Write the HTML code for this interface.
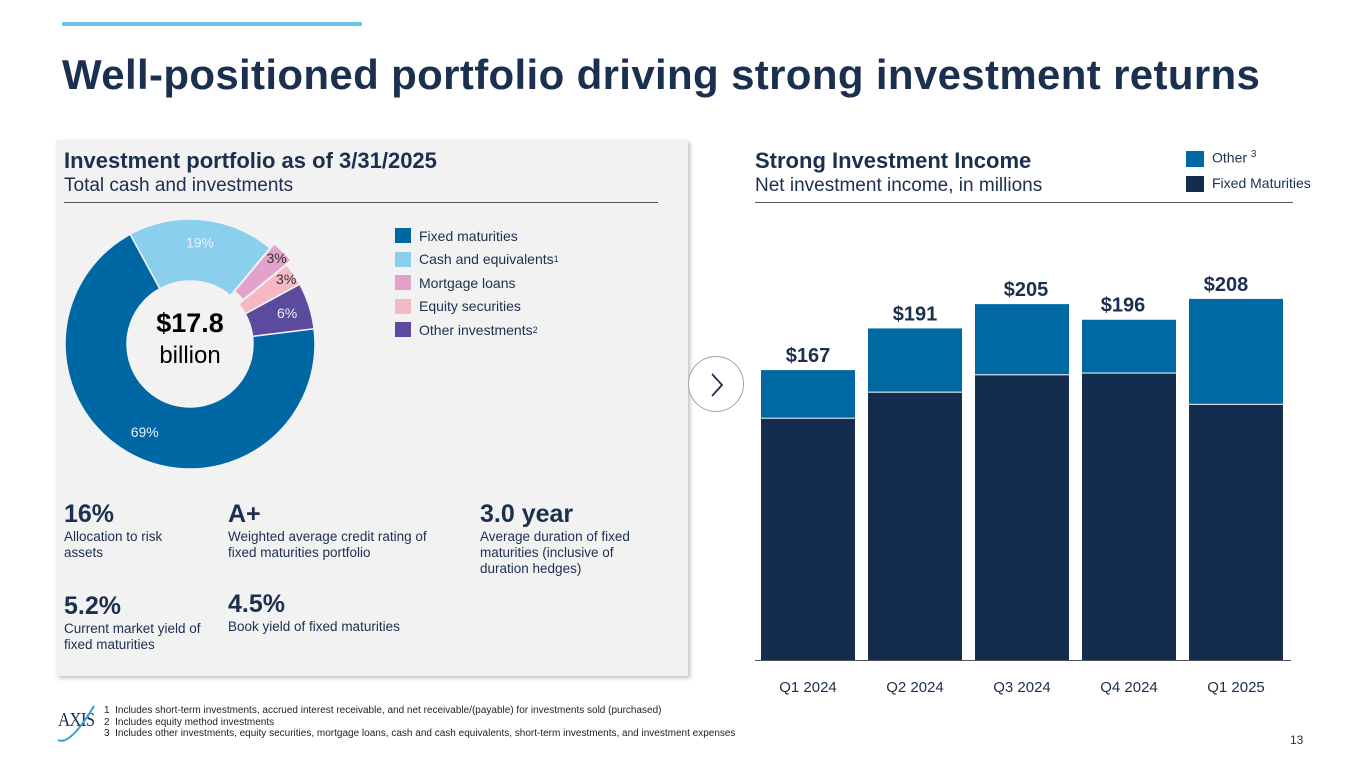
<!DOCTYPE html>
<html><head><meta charset="utf-8"><style>
body{margin:0;width:1365px;height:768px;background:#fff;position:relative;overflow:hidden;font-family:"Liberation Sans","DejaVu Sans",sans-serif;color:#1b2f4e}
.a{position:absolute}
</style></head><body>
<div class="a" style="left:62px;top:22px;width:300px;height:4px;background:#6cc4ea"></div>
<div class="a" style="left:62px;top:51px;font-size:42px;font-weight:bold;color:#1b2f4e;letter-spacing:0.35px">Well-positioned portfolio driving strong investment returns</div>
<div class="a" style="left:56px;top:140px;width:632px;height:536px;background:#f2f2f2;box-shadow:2px 2px 4px rgba(0,0,0,0.25)"></div>
<div class="a" style="left:64px;top:148px;font-size:22px;font-weight:bold">Investment portfolio as of 3/31/2025</div>
<div class="a" style="left:64px;top:175px;font-size:19px">Total cash and investments</div>
<div class="a" style="left:64px;top:202px;width:594px;height:1px;background:#555"></div>
<svg class="a" id="donut" style="left:0;top:0" width="690" height="690"></svg>
<div class="a" style="left:130px;top:308px;width:120px;text-align:center;font-size:27px;font-weight:bold;color:#000">$17.8</div>
<div class="a" style="left:130px;top:342px;width:120px;text-align:center;font-size:24px;color:#000">billion</div>
<div id="legend" class="a" style="left:395px;top:224px;font-size:14px;color:#1b2f4e"></div>
<div class="a" style="left:64px;top:500px;width:125px"><div style="font-size:25px;font-weight:bold">16%</div><div style="font-size:13.5px;line-height:16px">Allocation to risk assets</div></div>
<div class="a" style="left:228px;top:500px;width:230px"><div style="font-size:25px;font-weight:bold">A+</div><div style="font-size:13.5px;line-height:16px">Weighted average credit rating of fixed maturities portfolio</div></div>
<div class="a" style="left:480px;top:500px;width:180px"><div style="font-size:25px;font-weight:bold">3.0 year</div><div style="font-size:13.5px;line-height:16px">Average duration of fixed maturities (inclusive of duration hedges)</div></div>
<div class="a" style="left:64px;top:592px;width:140px"><div style="font-size:25px;font-weight:bold">5.2%</div><div style="font-size:13.5px;line-height:16px">Current market yield of fixed maturities</div></div>
<div class="a" style="left:228px;top:590px;width:230px"><div style="font-size:25px;font-weight:bold">4.5%</div><div style="font-size:13.5px;line-height:16px">Book yield of fixed maturities</div></div>
<div class="a" style="left:755px;top:148px;font-size:22px;font-weight:bold">Strong Investment Income</div>
<div class="a" style="left:755px;top:175px;font-size:19px">Net investment income, in millions</div>
<div class="a" style="left:755px;top:202px;width:538px;height:1px;background:#555"></div>
<div class="a" style="left:1186px;top:149px;font-size:14px"><span style="display:inline-block;width:18px;height:16px;background:#0068a3;vertical-align:middle;margin-right:8px"></span>Other <sup style="font-size:10px">3</sup></div>
<div class="a" style="left:1186px;top:175px;font-size:14px"><span style="display:inline-block;width:18px;height:16px;background:#142d4e;vertical-align:middle;margin-right:8px"></span>Fixed Maturities</div>
<svg class="a" id="bars" style="left:0;top:0" width="1365" height="768"></svg>
<div class="a" style="left:688px;top:356px;width:56px;height:56px;border-radius:50%;background:#fff;border:1px solid #9aa4b2;box-sizing:border-box"><svg width="56" height="56"><path d="M23 17 L33 28 L23 39" fill="none" stroke="#1b2f4e" stroke-width="1.8"/></svg></div>
<div class="a" style="left:58px;top:709px;font-family:'Liberation Serif',serif;font-size:20px;color:#1b2f4e;letter-spacing:-1px;transform:scaleX(0.85);transform-origin:left">AXIS</div>
<svg class="a" style="left:54px;top:700px" width="44" height="46"><path d="M4 40 Q16 46 40 6" fill="none" stroke="#2aa3dc" stroke-width="2"/></svg>
<div class="a" style="left:104px;top:705px;font-size:10px;line-height:11.5px;color:#222">1&nbsp; Includes short-term investments, accrued interest receivable, and net receivable/(payable) for investments sold (purchased)<br>2&nbsp; Includes equity method investments<br>3&nbsp; Includes other investments, equity securities, mortgage loans, cash and cash equivalents, short-term investments, and investment expenses</div>
<div class="a" style="left:1290px;top:733px;font-size:12px;color:#333">13</div>
<script>
const sliceNames=["Fixed maturities","Cash and equivalents","Mortgage loans","Equity securities","Other investments"];
const sliceValues=[69,19,3,3,6];
const sliceSup=["","1","","","2"];
const sliceColors=["#0067a5","#8bcfee","#e3a2cc","#f5b8c4","#5b4a9e"];
const NS="http://www.w3.org/2000/svg";
const d=document.getElementById('donut');
const cx=190,cy=344,R=125,r=63;
let ang=83;
const tot=sliceValues.reduce((a,b)=>a+b,0);
function pt(a,rad,ox,oy){const t=a*Math.PI/180;return[cx+ox+rad*Math.sin(t),cy+oy-rad*Math.cos(t)];}
sliceValues.forEach((v,i)=>{
  const sweep=v/tot*360,a0=ang,a1=ang+sweep,mid=(a0+a1)/2;
  const off=i==2?6:0,ox=off*Math.sin(mid*Math.PI/180),oy=-off*Math.cos(mid*Math.PI/180);
  const p0=pt(a0,R,ox,oy),p1=pt(a1,R,ox,oy),q1=pt(a1,r,ox,oy),q0=pt(a0,r,ox,oy);
  const lg=sweep>180?1:0;
  const p=document.createElementNS(NS,'path');
  p.setAttribute('d',`M${p0} A${R},${R} 0 ${lg} 1 ${p1} L${q1} A${r},${r} 0 ${lg} 0 ${q0}Z`);
  p.setAttribute('fill',sliceColors[i]);p.setAttribute('stroke','#f2f2f2');p.setAttribute('stroke-width','1.5');
  
  
  d.appendChild(p);
  const lr=i>=2&&i<=3?(R+r)/2+22:(R+r)/2+8;
  const lp=pt(mid,i==0?(R+r)/2+5:lr,ox,oy);
  const t=document.createElementNS(NS,'text');
  t.setAttribute('x',lp[0]);t.setAttribute('y',lp[1]+5);t.setAttribute('text-anchor','middle');
  t.setAttribute('font-size','14');t.setAttribute('fill',(i==2||i==3)?'#333':'#e8f2fa');
  t.textContent=v+'%';
  
  
  d.appendChild(t);
  ang=a1;
});
const lg=document.getElementById('legend');
sliceNames.forEach((n,i)=>{
  const e=document.createElement('div');
  e.style.cssText='height:23.5px;display:flex;align-items:center';
  e.innerHTML=`<span style="display:inline-block;width:16px;height:15px;background:${sliceColors[i]};margin-right:8px"></span>${n}${sliceSup[i]?'<sup style="font-size:9px">'+sliceSup[i]+'</sup>':''}`;
  
  
  lg.appendChild(e);
});
const quarters=["Q1 2024","Q2 2024","Q3 2024","Q4 2024","Q1 2025"];
const fixedVals=[139,154,164,165,147];
const totalVals=[167,191,205,196,208];
const b=document.getElementById('bars');
const base=660,sc=1.736,x0=761,step=107,bw=94;
const ys=v=>base-v*sc;
const ax=document.createElementNS(NS,'line');
ax.setAttribute('x1',755);ax.setAttribute('x2',1291);ax.setAttribute('y1',base+0.5);ax.setAttribute('y2',base+0.5);ax.setAttribute('stroke','#555');


b.appendChild(ax);
quarters.forEach((q,i)=>{
  const x=x0+i*step;
  const f=document.createElementNS(NS,'rect');
  f.setAttribute('x',x);f.setAttribute('y',ys(fixedVals[i]));f.setAttribute('width',bw);f.setAttribute('height',fixedVals[i]*sc);f.setAttribute('fill','#142d4e');
  
  
  b.appendChild(f);
  const o=document.createElementNS(NS,'rect');
  o.setAttribute('x',x);o.setAttribute('y',ys(totalVals[i]));o.setAttribute('width',bw);o.setAttribute('height',(totalVals[i]-fixedVals[i])*sc-1);o.setAttribute('fill','#0068a3');
  
  
  b.appendChild(o);
  const t=document.createElementNS(NS,'text');
  t.setAttribute('x',x+bw/2-(i==4?10:0)+(i==2?4:0)+(i==3?-6:0));t.setAttribute('y',ys(totalVals[i])-8);t.setAttribute('text-anchor','middle');
  t.setAttribute('font-size','20');t.setAttribute('font-weight','bold');t.setAttribute('fill','#1b2f4e');
  t.textContent='$'+totalVals[i];
  
  
  b.appendChild(t);
  const l=document.createElementNS(NS,'text');
  l.setAttribute('x',x+bw/2);l.setAttribute('y',692);l.setAttribute('text-anchor','middle');l.setAttribute('font-size','15');l.setAttribute('fill','#1b2f4e');
  l.textContent=q;
  
  
  b.appendChild(l);
});
</script>
</body></html>
